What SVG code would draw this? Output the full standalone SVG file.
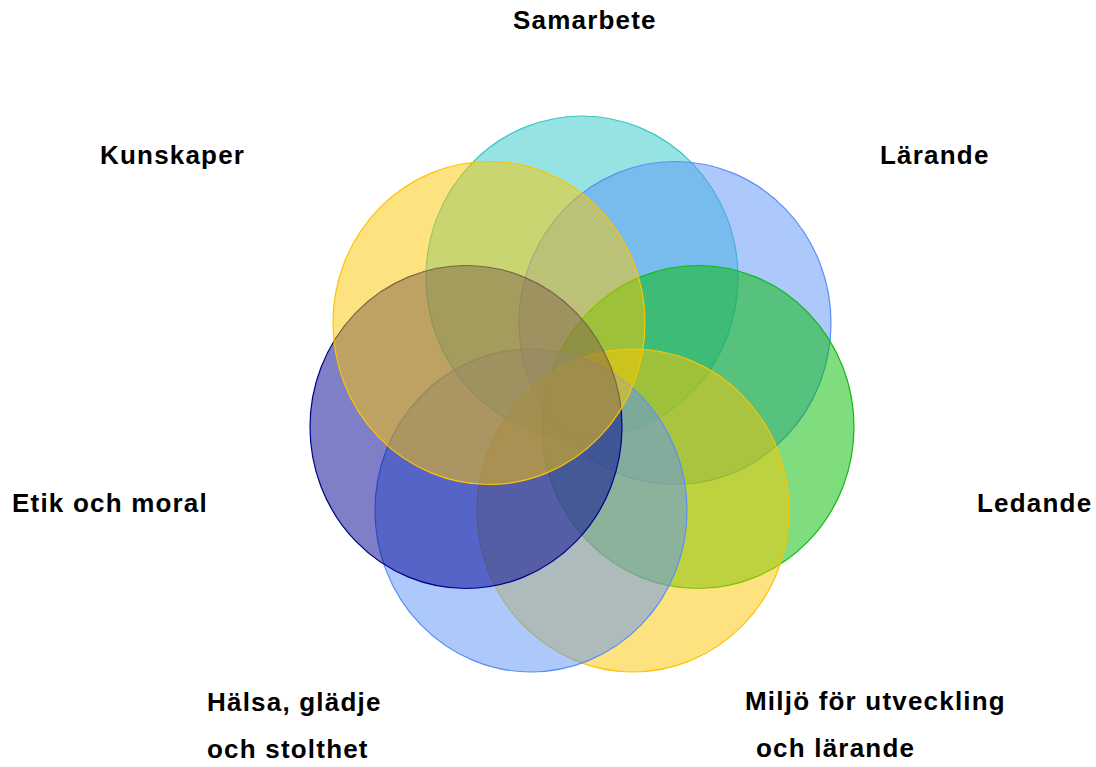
<svg xmlns="http://www.w3.org/2000/svg" width="1096" height="767" viewBox="0 0 1096 767">
<style>
.c{fill-opacity:0.5;stroke-width:1.2}
.t{font-family:"Liberation Sans",Arial,sans-serif;font-weight:bold;font-size:26px;letter-spacing:1.2px;fill:#000}
</style>
<rect width="1096" height="767" fill="#fff"/>
<g id="samarbete"><ellipse class="c" cx="582" cy="277.5" rx="156" ry="161.5" fill="#2ccac8" stroke="#3cc6c4"/><text class="t" x="513" y="29">Samarbete</text></g>
<g id="larande"><ellipse class="c" cx="675" cy="323" rx="156" ry="161.5" fill="#5b93f9" stroke="#5b8ff5"/><text class="t" x="880" y="164">Lärande</text></g>
<g id="ledande"><ellipse class="c" cx="698" cy="427" rx="156" ry="161.5" fill="#00bc00" stroke="#10b810"/><text class="t" x="977" y="512">Ledande</text></g>
<g id="miljo"><ellipse class="c" cx="633" cy="510.5" rx="156" ry="161.5" fill="#fec500" stroke="#fcc400"/><text class="t" x="745" y="710">Miljö för utveckling</text><text class="t" x="756" y="757">och lärande</text></g>
<g id="halsa"><ellipse class="c" cx="531" cy="510.5" rx="156" ry="161.5" fill="#5b93f9" stroke="#5b8ff5"/><text class="t" x="207" y="711">Hälsa, glädje</text><text class="t" x="207" y="758">och stolthet</text></g>
<g id="etik"><ellipse class="c" cx="466" cy="427" rx="156" ry="161.5" fill="#000091" stroke="#00008b"/><text class="t" x="12" y="512">Etik och moral</text></g>
<g id="kunskaper"><ellipse class="c" cx="489" cy="323" rx="156" ry="161.5" fill="#fec500" stroke="#fcc400"/><text class="t" x="100" y="164">Kunskaper</text></g>
<g id="connectors"></g>
</svg>
